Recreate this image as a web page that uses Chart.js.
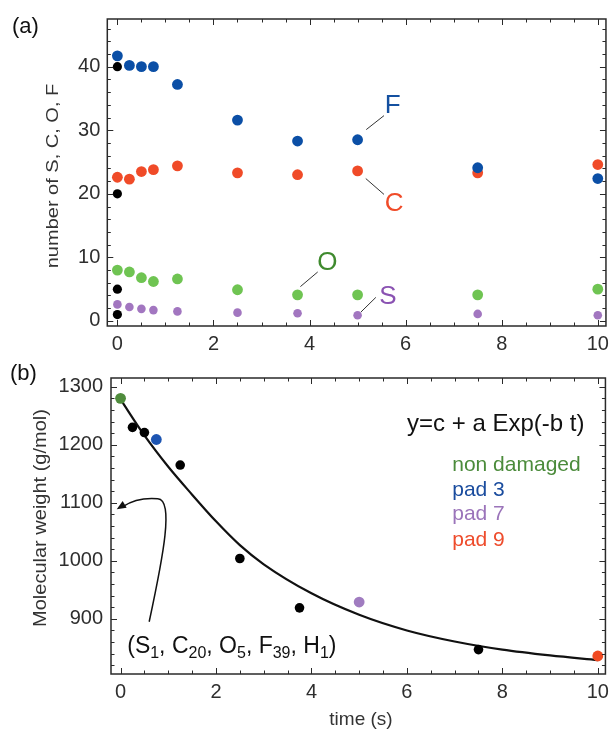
<!DOCTYPE html>
<html>
<head>
<meta charset="utf-8">
<script src="https://cdn.jsdelivr.net/npm/chart.js@4.4.1/dist/chart.umd.min.js"></script>
<style>
  html, body { margin: 0; padding: 0; background: #fff; }
  #wrap { position: relative; width: 615px; height: 731px; overflow: hidden; }
  .panel { position: absolute; left: 0; width: 615px; }
  #pa { top: 0; height: 358px; }
  #pb { top: 358px; height: 373px; }
</style>
</head>
<body>
<div id="wrap">
  <div class="panel" id="pa"><canvas id="ca" width="615" height="358"></canvas></div>
  <div class="panel" id="pb"><canvas id="cb" width="615" height="373"></canvas></div>
</div>
<script>
// ---- panel (a): atom counts per molecule vs. exposure time ----
const timesA = [0, 0.25, 0.5, 0.75, 1.25, 2.5, 3.75, 5, 7.5, 10];
const countF = [41.7, 40.2, 40.0, 40.0, 37.2, 31.6, 28.3, 28.5, 24.1, 22.4];
const countC = [22.6, 22.3, 23.5, 23.8, 24.4, 23.3, 23.0, 23.6, 23.3, 24.6];
const countO = [8.0, 7.7, 6.8, 6.2, 6.6, 4.9, 4.1, 4.1, 4.1, 5.0];
const countS = [2.6, 2.2, 1.9, 1.7, 1.5, 1.3, 1.2, 0.9, 1.1, 0.9];
// intact molecule (t = 0): F, C, O, S
const refCounts = [40, 20, 5, 1];

// ---- panel (b): molecular weight vs. exposure time ----
const timesB = [0.25, 0.5, 1.25, 2.5, 3.75, 7.5];
const weightB = [1230, 1221, 1165, 1004, 919, 847];
const padNames = ['non damaged', 'pad 3', 'pad 7', 'pad 9'];
const padTimes = [0, 0.75, 5, 10];
const padWeights = [1280, 1209, 929, 836];
// fitted decay curve y = c + a Exp(-b t), sampled
const fitT = [0, 0.5, 1, 1.5, 2, 2.5, 3, 4, 5, 6, 7, 8, 9, 10];
const fitW = [1278, 1216, 1162, 1114, 1068, 1027, 994, 944, 907, 880, 861, 847, 837, 829];

// ---- tick labels ----
const xTickLabels = [0, 2, 4, 6, 8, 10];
const yTickLabelsA = [0, 10, 20, 30, 40];
const yTickLabelsB = [900, 1000, 1100, 1200, 1300];

const FONT = "'Liberation Sans', Arial, Helvetica, sans-serif";
const INK = '#2e2e2e';

const C_BLUE = '#0b4fa6';
const C_RED = '#f04b28';
const C_GREEN = '#6fc452';
const C_PURPLE = '#a276c0';
const C_DKGREEN = '#4f8c3c';

function pts(xs, ys) { return xs.map((v, i) => ({ x: v, y: ys[i] })); }

function range(a, b, step) {
  const out = [];
  for (let v = a; v <= b + 1e-9; v += step) out.push(+v.toFixed(6));
  return out;
}

// box frame with inward ticks on all four sides
function drawFrame(chart, xMajor, xStep, yMajor, yStep) {
  const { ctx, chartArea: a, scales: { x, y } } = chart;
  ctx.save();
  ctx.strokeStyle = '#2a2a2a';
  ctx.lineWidth = 1;
  const xs = range(Math.ceil(x.min / xStep) * xStep, x.max, xStep);
  const ys = range(Math.ceil(y.min / yStep) * yStep, y.max, yStep);
  ctx.beginPath();
  xs.forEach(v => {
    const p = Math.round(x.getPixelForValue(v)) + 0.5;
    const len = xMajor.includes(v) ? 6 : 3.5;
    ctx.moveTo(p, a.bottom); ctx.lineTo(p, a.bottom - len);
    ctx.moveTo(p, a.top); ctx.lineTo(p, a.top + len);
  });
  ys.forEach(v => {
    const p = Math.round(y.getPixelForValue(v)) + 0.5;
    const len = yMajor.includes(v) ? 6 : 3.5;
    ctx.moveTo(a.left, p); ctx.lineTo(a.left + len, p);
    ctx.moveTo(a.right, p); ctx.lineTo(a.right - len, p);
  });
  ctx.stroke();
  ctx.lineWidth = 1.5;
  ctx.strokeRect(a.left, a.top, a.right - a.left, a.bottom - a.top);
  ctx.restore();
}

function rotatedTitle(ctx, text, cx, cy, size, squash) {
  ctx.save();
  ctx.translate(cx, cy);
  ctx.rotate(-Math.PI / 2);
  ctx.scale(1, squash);
  ctx.font = size + 'px ' + FONT;
  ctx.fillStyle = '#333';
  ctx.textAlign = 'center';
  ctx.textBaseline = 'middle';
  ctx.fillText(text, 0, 0);
  ctx.restore();
}

function commonScales(xMin, xMax, yMin, yMax, yTicks, yWidth, xHeight, yPad, xFont, yFont) {
  return {
    x: {
      type: 'linear', min: xMin, max: xMax,
      grid: { display: false, drawTicks: false }, border: { display: false },
      afterBuildTicks: s => { s.ticks = xTickLabels.map(v => ({ value: v })); },
      afterFit: s => { s.height = xHeight; },
      ticks: { font: { family: FONT, size: xFont }, color: INK, padding: 6, maxRotation: 0, autoSkip: false, callback: v => String(v) }
    },
    y: {
      type: 'linear', min: yMin, max: yMax,
      grid: { display: false, drawTicks: false }, border: { display: false },
      afterBuildTicks: s => { s.ticks = yTicks.map(v => ({ value: v })); },
      afterFit: s => { s.width = yWidth; },
      ticks: { font: { family: FONT, size: yFont }, color: INK, padding: yPad, autoSkip: false, callback: v => String(v) }
    }
  };
}

// ---------------- panel (a) ----------------
const labelsA = [
  { t: 'F', col: '#1450a0', at: [5.73, 33.9], line: [[5.18, 30.1], [5.55, 32.3]] },
  { t: 'C', col: '#f04b28', at: [5.76, 18.4], line: [[5.17, 22.4], [5.55, 19.9]] },
  { t: 'O', col: '#3f8a2e', at: [4.37, 9.1], line: [[3.81, 5.4], [4.17, 7.7]] },
  { t: 'S', col: '#8a52b2', at: [5.63, 3.8], line: [[5.07, 1.4], [5.38, 3.7]] }
];

const panelAPlugin = {
  id: 'panelA',
  afterDatasetsDraw(chart) {
    const { ctx, scales: { x, y } } = chart;
    drawFrame(chart, xTickLabels, 0.5, yTickLabelsA, 2);
    ctx.save();
    labelsA.forEach(l => {
      ctx.strokeStyle = '#333';
      ctx.lineWidth = 1;
      ctx.beginPath();
      ctx.moveTo(x.getPixelForValue(l.line[0][0]), y.getPixelForValue(l.line[0][1]));
      ctx.lineTo(x.getPixelForValue(l.line[1][0]), y.getPixelForValue(l.line[1][1]));
      ctx.stroke();
      ctx.font = '26px ' + FONT;
      ctx.fillStyle = l.col;
      ctx.textAlign = 'center';
      ctx.textBaseline = 'middle';
      ctx.fillText(l.t, x.getPixelForValue(l.at[0]), y.getPixelForValue(l.at[1]));
    });
    ctx.font = '22px ' + FONT;
    ctx.fillStyle = '#111';
    ctx.textAlign = 'left';
    ctx.textBaseline = 'middle';
    ctx.fillText('(a)', 12, 27);
    ctx.restore();
    rotatedTitle(ctx, 'number of S, C, O, F', 53, 176, 20, 0.85);
  }
};

new Chart(document.getElementById('ca'), {
  type: 'scatter',
  data: {
    datasets: [
      { label: 'intact', data: refCounts.map(v => ({ x: 0, y: v })), backgroundColor: '#000', pointRadius: 4.6, order: 0 },
      { label: 'F', data: pts(timesA, countF), backgroundColor: C_BLUE, pointRadius: 5.4, order: 1 },
      { label: 'C', data: pts(timesA, countC), backgroundColor: C_RED, pointRadius: 5.4, order: 2 },
      { label: 'O', data: pts(timesA, countO), backgroundColor: C_GREEN, pointRadius: 5.4, order: 3 },
      { label: 'S', data: pts(timesA, countS), backgroundColor: C_PURPLE, pointRadius: 4.3, order: 4 }
    ]
  },
  options: {
    responsive: false, animation: false, devicePixelRatio: 1,
    layout: { padding: { left: 0, top: 15, right: 3.3, bottom: 0 } },
    elements: { point: { borderWidth: 0, hoverRadius: 5 } },
    plugins: { legend: { display: false }, tooltip: { enabled: false } },
    scales: commonScales(-0.21, 10.17, -0.8, 47.5, yTickLabelsA, 107.3, 32, 7, 20, 20)
  },
  plugins: [panelAPlugin]
});

// ---------------- panel (b) ----------------
const padColors = ['#4b8b3b', '#1a4c9e', '#9b74ba', '#ee4c2c'];
const legendAt = { t: 6.95, y: [1165, 1121, 1080, 1036] };
const formulaAt = [9.72, 1235];
const compAt = [0.14, 852];
const compParts = [['(S', 0], ['1', 1], [', C', 0], ['20', 1], [', O', 0], ['5', 1], [', F', 0], ['39', 1], [', H', 0], ['1', 1], [')', 0]];
const arrowPath = { start: [0.6, 895], c1: [0.9, 1010], c2: [1.12, 1105], mid: [0.78, 1107], c3: [0.35, 1110], tip: [-0.08, 1089] };

const panelBPlugin = {
  id: 'panelB',
  afterDatasetsDraw(chart) {
    const { ctx, scales: { x, y } } = chart;
    const P = p => [x.getPixelForValue(p[0]), y.getPixelForValue(p[1])];
    drawFrame(chart, xTickLabels, 0.5, yTickLabelsB, 20);
    ctx.save();
    // formula
    ctx.font = '24px ' + FONT;
    ctx.fillStyle = '#111';
    ctx.textAlign = 'right';
    ctx.textBaseline = 'middle';
    let q = P(formulaAt);
    ctx.fillText('y=c + a Exp(-b t)', q[0], q[1]);
    // series key
    ctx.font = '21px ' + FONT;
    ctx.textAlign = 'left';
    padNames.forEach((n, i) => {
      ctx.fillStyle = padColors[i];
      const p = P([legendAt.t, legendAt.y[i]]);
      ctx.fillText(n, p[0], p[1]);
    });
    // composition of the intact molecule
    q = P(compAt);
    let cx = q[0];
    ctx.fillStyle = '#111';
    compParts.forEach(([s, sub]) => {
      ctx.font = (sub ? '16px ' : '23px ') + FONT;
      ctx.fillText(s, cx, q[1] + (sub ? 7 : 0));
      cx += ctx.measureText(s).width;
    });
    // curved arrow to the axis
    const s0 = P(arrowPath.start), c1 = P(arrowPath.c1), c2 = P(arrowPath.c2), m = P(arrowPath.mid), c3 = P(arrowPath.c3), tp = P(arrowPath.tip);
    ctx.strokeStyle = '#111';
    ctx.lineWidth = 1.5;
    ctx.beginPath();
    ctx.moveTo(s0[0], s0[1]);
    ctx.bezierCurveTo(c1[0], c1[1], c2[0], c2[1], m[0], m[1]);
    ctx.quadraticCurveTo(c3[0], c3[1], tp[0] + 6, tp[1] - 2.5);
    ctx.stroke();
    const ang = Math.atan2(tp[1] - c3[1], tp[0] - c3[0]);
    ctx.fillStyle = '#111';
    ctx.beginPath();
    ctx.moveTo(tp[0], tp[1]);
    ctx.lineTo(tp[0] - 10 * Math.cos(ang - 0.4), tp[1] - 10 * Math.sin(ang - 0.4));
    ctx.lineTo(tp[0] - 10 * Math.cos(ang + 0.4), tp[1] - 10 * Math.sin(ang + 0.4));
    ctx.closePath();
    ctx.fill();
    // panel tag and axis titles
    ctx.font = '22px ' + FONT;
    ctx.textAlign = 'left';
    ctx.fillText('(b)', 10, 16);
    ctx.font = '19px ' + FONT;
    ctx.fillStyle = '#333';
    ctx.textAlign = 'center';
    ctx.fillText('time (s)', 361, 362);
    ctx.restore();
    rotatedTitle(ctx, 'Molecular weight (g/mol)', 41, 160, 20, 0.9);
  }
};

new Chart(document.getElementById('cb'), {
  type: 'scatter',
  data: {
    datasets: [
      { label: 'damaged', data: pts(timesB, weightB), backgroundColor: '#000', pointRadius: 4.8, order: 1 },
      { label: 'pads', data: pts(padTimes, padWeights), backgroundColor: [C_DKGREEN, '#1d55b2', '#a07cc0', '#f04a22'], pointRadius: 5.4, order: 0 },
      { label: 'fit', type: 'line', data: pts(fitT, fitW), borderColor: '#111', borderWidth: 2.2, pointRadius: 0, showLine: true, fill: false, cubicInterpolationMode: 'monotone', order: 2 }
    ]
  },
  options: {
    responsive: false, animation: false, devicePixelRatio: 1,
    layout: { padding: { left: 0, top: 6, right: 3.3, bottom: 0 } },
    elements: { point: { borderWidth: 0, hoverRadius: 5 } },
    plugins: { legend: { display: false }, tooltip: { enabled: false } },
    scales: commonScales(-0.2, 10.16, 805, 1315, yTickLabelsB, 111, 57, 8, 20, 20)
  },
  plugins: [panelBPlugin]
});
</script>
</body>
</html>
